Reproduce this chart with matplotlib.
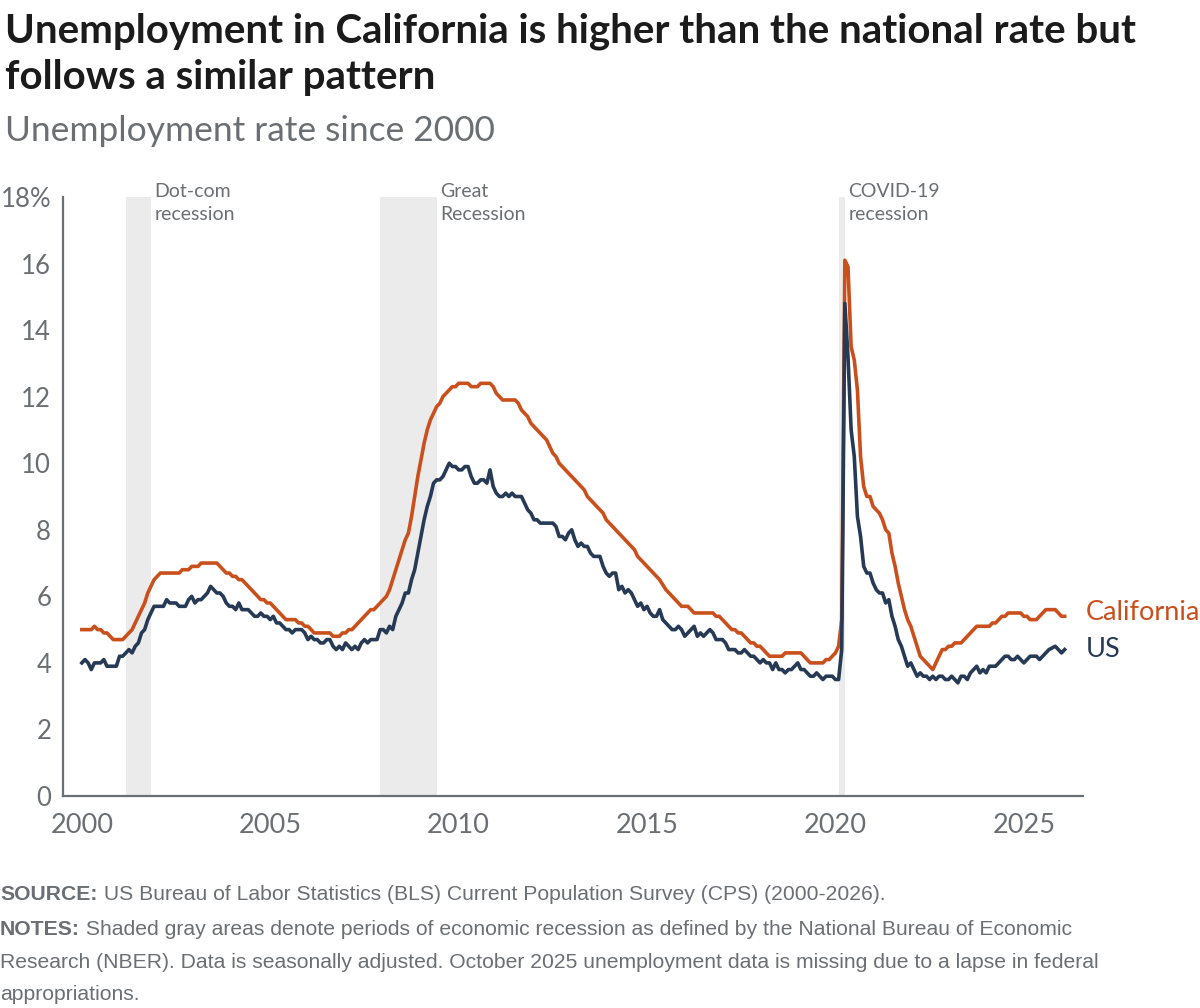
import numpy as np
import matplotlib.pyplot as plt

# Monthly unemployment rate (%), Jan 2000 - Feb 2026 (Oct 2025 missing)
ca_rate = [
    5.0, 5.0, 5.0, 5.0, 5.1, 5.0, 5.0, 4.9, 4.9, 4.8, 4.7, 4.7,  # 2000
    4.7, 4.7, 4.8, 4.9, 5.0, 5.2, 5.4, 5.6, 5.8, 6.1, 6.3, 6.5,  # 2001
    6.6, 6.7, 6.7, 6.7, 6.7, 6.7, 6.7, 6.7, 6.8, 6.8, 6.8, 6.9,  # 2002
    6.9, 6.9, 7.0, 7.0, 7.0, 7.0, 7.0, 7.0, 6.9, 6.8, 6.7, 6.7,  # 2003
    6.6, 6.6, 6.5, 6.5, 6.4, 6.3, 6.2, 6.1, 6.0, 5.9, 5.9, 5.8,  # 2004
    5.8, 5.7, 5.6, 5.5, 5.4, 5.3, 5.3, 5.3, 5.3, 5.2, 5.2, 5.1,  # 2005
    5.1, 5.0, 4.9, 4.9, 4.9, 4.9, 4.9, 4.9, 4.8, 4.8, 4.8, 4.9,  # 2006
    4.9, 5.0, 5.0, 5.1, 5.2, 5.3, 5.4, 5.5, 5.6, 5.6, 5.7, 5.8,  # 2007
    5.9, 6.0, 6.2, 6.5, 6.8, 7.1, 7.4, 7.7, 7.9, 8.4, 9.0, 9.6,  # 2008
    10.1, 10.6, 11.0, 11.3, 11.5, 11.7, 11.8, 12.0, 12.1, 12.2, 12.3, 12.3,  # 2009
    12.4, 12.4, 12.4, 12.4, 12.3, 12.3, 12.3, 12.4, 12.4, 12.4, 12.4, 12.3,  # 2010
    12.1, 12.0, 11.9, 11.9, 11.9, 11.9, 11.9, 11.8, 11.6, 11.5, 11.4, 11.2,  # 2011
    11.1, 11.0, 10.9, 10.8, 10.7, 10.5, 10.3, 10.2, 10.0, 9.9, 9.8, 9.7,  # 2012
    9.6, 9.5, 9.4, 9.3, 9.2, 9.0, 8.9, 8.8, 8.7, 8.6, 8.5, 8.3,  # 2013
    8.2, 8.1, 8.0, 7.9, 7.8, 7.7, 7.6, 7.5, 7.4, 7.2, 7.1, 7.0,  # 2014
    6.9, 6.8, 6.7, 6.6, 6.5, 6.35, 6.2, 6.1, 6.0, 5.9, 5.8, 5.7,  # 2015
    5.7, 5.7, 5.6, 5.5, 5.5, 5.5, 5.5, 5.5, 5.5, 5.5, 5.4, 5.4,  # 2016
    5.3, 5.2, 5.1, 5.0, 5.0, 4.9, 4.9, 4.8, 4.7, 4.6, 4.6, 4.5,  # 2017
    4.5, 4.4, 4.3, 4.2, 4.2, 4.2, 4.2, 4.2, 4.3, 4.3, 4.3, 4.3,  # 2018
    4.3, 4.3, 4.2, 4.1, 4.0, 4.0, 4.0, 4.0, 4.0, 4.1, 4.1, 4.2,  # 2019
    4.3, 4.5, 5.3, 16.1, 15.9, 13.5, 13.1, 12.2, 10.2, 9.3, 9.0, 9.0,  # 2020
    8.7, 8.6, 8.5, 8.3, 8.0, 7.9, 7.3, 6.9, 6.4, 6.0, 5.6, 5.3,  # 2021
    5.1, 4.8, 4.5, 4.2, 4.1, 4.0, 3.9, 3.8, 4.0, 4.2, 4.4, 4.4,  # 2022
    4.5, 4.5, 4.6, 4.6, 4.6, 4.7, 4.8, 4.9, 5.0, 5.1, 5.1, 5.1,  # 2023
    5.1, 5.1, 5.2, 5.2, 5.3, 5.4, 5.4, 5.5, 5.5, 5.5, 5.5, 5.5,  # 2024
    5.4, 5.4, 5.3, 5.3, 5.3, 5.4, 5.5, 5.6, 5.6, None, 5.6, 5.5,  # 2025
    5.4, 5.4,  # 2026
]
us_rate = [
    4.0, 4.1, 4.0, 3.8, 4.0, 4.0, 4.0, 4.1, 3.9, 3.9, 3.9, 3.9,  # 2000
    4.2, 4.2, 4.3, 4.4, 4.3, 4.5, 4.6, 4.9, 5.0, 5.3, 5.5, 5.7,  # 2001
    5.7, 5.7, 5.7, 5.9, 5.8, 5.8, 5.8, 5.7, 5.7, 5.7, 5.9, 6.0,  # 2002
    5.8, 5.9, 5.9, 6.0, 6.1, 6.3, 6.2, 6.1, 6.1, 6.0, 5.8, 5.7,  # 2003
    5.7, 5.6, 5.8, 5.6, 5.6, 5.6, 5.5, 5.4, 5.4, 5.5, 5.4, 5.4,  # 2004
    5.3, 5.4, 5.2, 5.2, 5.1, 5.0, 5.0, 4.9, 5.0, 5.0, 5.0, 4.9,  # 2005
    4.7, 4.8, 4.7, 4.7, 4.6, 4.6, 4.7, 4.7, 4.5, 4.4, 4.5, 4.4,  # 2006
    4.6, 4.5, 4.4, 4.5, 4.4, 4.6, 4.7, 4.6, 4.7, 4.7, 4.7, 5.0,  # 2007
    5.0, 4.9, 5.1, 5.0, 5.4, 5.6, 5.8, 6.1, 6.1, 6.5, 6.8, 7.3,  # 2008
    7.8, 8.3, 8.7, 9.0, 9.4, 9.5, 9.5, 9.6, 9.8, 10.0, 9.9, 9.9,  # 2009
    9.8, 9.8, 9.9, 9.9, 9.6, 9.4, 9.4, 9.5, 9.5, 9.4, 9.8, 9.3,  # 2010
    9.1, 9.0, 9.0, 9.1, 9.0, 9.1, 9.0, 9.0, 9.0, 8.8, 8.6, 8.5,  # 2011
    8.3, 8.3, 8.2, 8.2, 8.2, 8.2, 8.2, 8.1, 7.8, 7.8, 7.7, 7.9,  # 2012
    8.0, 7.7, 7.5, 7.6, 7.5, 7.5, 7.3, 7.2, 7.2, 7.2, 6.9, 6.7,  # 2013
    6.6, 6.7, 6.7, 6.2, 6.3, 6.1, 6.2, 6.1, 5.9, 5.7, 5.8, 5.6,  # 2014
    5.7, 5.5, 5.4, 5.4, 5.6, 5.3, 5.2, 5.1, 5.0, 5.0, 5.1, 5.0,  # 2015
    4.8, 4.9, 5.0, 5.1, 4.8, 4.9, 4.8, 4.9, 5.0, 4.9, 4.7, 4.7,  # 2016
    4.7, 4.6, 4.4, 4.4, 4.4, 4.3, 4.3, 4.4, 4.3, 4.2, 4.2, 4.1,  # 2017
    4.0, 4.1, 4.0, 4.0, 3.8, 4.0, 3.8, 3.8, 3.7, 3.8, 3.8, 3.9,  # 2018
    4.0, 3.8, 3.8, 3.7, 3.6, 3.6, 3.7, 3.6, 3.5, 3.6, 3.6, 3.6,  # 2019
    3.5, 3.5, 4.4, 14.8, 13.2, 11.0, 10.2, 8.4, 7.8, 6.9, 6.7, 6.7,  # 2020
    6.4, 6.2, 6.1, 6.1, 5.8, 5.9, 5.4, 5.1, 4.7, 4.5, 4.2, 3.9,  # 2021
    4.0, 3.8, 3.6, 3.7, 3.6, 3.6, 3.5, 3.6, 3.5, 3.6, 3.6, 3.5,  # 2022
    3.5, 3.6, 3.5, 3.4, 3.6, 3.6, 3.5, 3.7, 3.8, 3.9, 3.7, 3.8,  # 2023
    3.7, 3.9, 3.9, 3.9, 4.0, 4.1, 4.2, 4.2, 4.1, 4.1, 4.2, 4.1,  # 2024
    4.0, 4.1, 4.2, 4.2, 4.2, 4.1, 4.2, 4.3, 4.4, None, 4.5, 4.4,  # 2025
    4.3, 4.4,  # 2026
]

# NBER recessions (peak month, trough month) as decimal years
rec_start = [2001 + 2/12, 2007 + 11/12, 2020 + 1/12]
rec_end = [2001 + 10/12, 2009 + 5/12, 2020 + 3/12]
rec_labels = ["Dot-com\nrecession", "Great\nRecession", "COVID-19\nrecession"]

x_ticks = [2000, 2005, 2010, 2015, 2020, 2025]
y_ticks = [0, 2, 4, 6, 8, 10, 12, 14, 16, 18]
y_labels = ["0", "2", "4", "6", "8", "10", "12", "14", "16", "18%"]

CA_COL = "#c9501c"
US_COL = "#263a55"
GRAY = "#6b6f73"

plt.rcParams['font.family'] = ['Lato', 'DejaVu Sans']

t = 2000 + np.arange(len(ca_rate)) / 12
ca = np.array([np.nan if v is None else v for v in ca_rate])
us = np.array([np.nan if v is None else v for v in us_rate])
ok = ~np.isnan(ca)

fig = plt.figure(figsize=(12, 10.08), dpi=100)
ax = fig.add_axes([0.0525, 0.2103, 0.85, 0.5943])

for s, e in zip(rec_start, rec_end):
    ax.axvspan(s, e, color="#ebebeb", lw=0, zorder=0)
for e, lab in zip(rec_end, rec_labels):
    ax.annotate(lab, xy=(e, 18), xytext=(2.5, 10), textcoords="offset points",
                fontsize=14, color=GRAY, va="top", ha="left",
                linespacing=1.45, annotation_clip=False)

ax.plot(t[ok], ca[ok], color=CA_COL, lw=2.6, solid_joinstyle="round", zorder=3)
ax.plot(t[ok], us[ok], color=US_COL, lw=2.6, solid_joinstyle="round", zorder=3)

ax.text(t[-1] + 0.55, ca[-1] + 0.12, "California", color=CA_COL, fontsize=19.5, va="center")
ax.text(t[-1] + 0.55, us[-1], "US", color=US_COL, fontsize=19.5, va="center")

ax.set_xlim(1999.5, 2026.57)
ax.set_ylim(0, 18)
ax.set_xticks(x_ticks)
ax.set_yticks(y_ticks)
ax.set_yticklabels(y_labels)
ax.tick_params(length=0, labelcolor=GRAY)
ax.tick_params(axis="x", labelsize=19.5, pad=12)
ax.tick_params(axis="y", labelsize=18.5, pad=8.5)
for side in ["top", "right"]:
    ax.spines[side].set_visible(False)
for side in ["left", "bottom"]:
    ax.spines[side].set_color(GRAY)
    ax.spines[side].set_linewidth(1.6)

fig.text(0.004, 1 - 42/1008, "Unemployment in California is higher than the national rate but",
         fontsize=29, fontweight="bold", color="#1b1b1b", va="baseline")
fig.text(0.004, 1 - 89/1008, "follows a similar pattern",
         fontsize=29, fontweight="bold", color="#1b1b1b", va="baseline")
fig.text(0.004, 1 - 141/1008, "Unemployment rate since 2000", fontsize=25.5, color=GRAY, va="baseline")

# footnotes with bold lead-ins
foot = ["Liberation Sans", "DejaVu Sans"]
fs = 15.2
r = fig.canvas.get_renderer()
notes = [
    ("SOURCE:", " US Bureau of Labor Statistics (BLS) Current Population Survey (CPS) (2000-2026).", 1 - 900/1008),
    ("NOTES:", " Shaded gray areas denote periods of economic recession as defined by the National Bureau of Economic", 1 - 935/1008),
]
for head, body, yy in notes:
    h = fig.text(0.0, yy, head, fontsize=fs, fontweight="bold", color=GRAY, family=foot, va="baseline")
    bb = h.get_window_extent(r)
    fig.text(bb.x1 / fig.bbox.width, yy, body, fontsize=fs, color=GRAY, family=foot, va="baseline")
fig.text(0.0, 1 - 968/1008, "Research (NBER). Data is seasonally adjusted. October 2025 unemployment data is missing due to a lapse in federal",
         fontsize=fs, color=GRAY, family=foot, va="baseline")
fig.text(0.0, 1 - 1000/1008, "appropriations.", fontsize=fs, color=GRAY, family=foot, va="baseline")

fig.savefig("out.png", dpi=100)
